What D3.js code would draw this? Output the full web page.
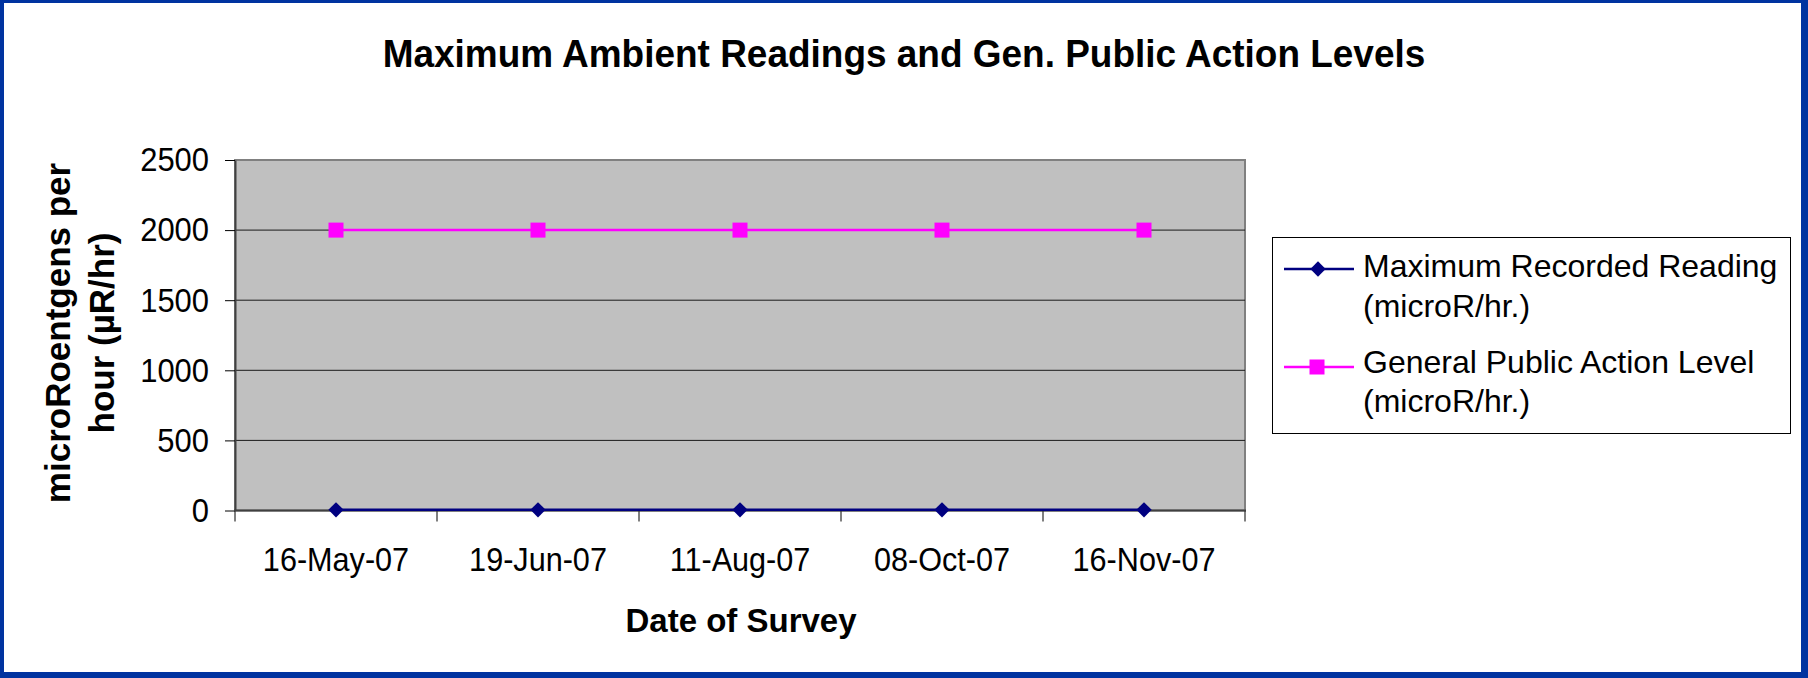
<!DOCTYPE html>
<html>
<head>
<meta charset="utf-8">
<script src="https://cdn.jsdelivr.net/npm/d3@7/dist/d3.min.js"></script>
<style>
  html, body { margin: 0; padding: 0; background: #0033a0; }
  svg { display: block; }
  text { font-family: "Liberation Sans", Arial, sans-serif; fill: #000; }
</style>
</head>
<body>
<svg id="chart" width="1808" height="678"></svg>
<script>
  const dates = ["16-May-07", "19-Jun-07", "11-Aug-07", "08-Oct-07", "16-Nov-07"];
  const maxReading = [5, 5, 5, 5, 5];
  const actionLevel = [2000, 2000, 2000, 2000, 2000];
  const yTicks = [0, 500, 1000, 1500, 2000, 2500];
  const seriesNames = [
    ["Maximum Recorded Reading", "(microR/hr.)"],
    ["General Public Action Level", "(microR/hr.)"],
  ];

  const plot = { left: 235, top: 160, right: 1245, bottom: 510.5 };

  const svg = d3.select("#chart");

  // the source chart's text is a bit narrower than Arial: squeeze glyphs
  function condense(sel, k) {
    sel.each(function () {
      const w = this.getComputedTextLength();
      d3.select(this).attr("textLength", w * k).attr("lengthAdjust", "spacingAndGlyphs");
    });
  }

  // white slide panel inside the blue frame
  svg.append("rect")
    .attr("x", 4).attr("y", 3)
    .attr("width", 1797).attr("height", 669)
    .attr("fill", "#fff");

  /* ── title ── */
  svg.append("text")
    .attr("x", 904).attr("y", 67)
    .attr("text-anchor", "middle")
    .attr("font-size", 38.5).attr("font-weight", "bold")
    .text("Maximum Ambient Readings and Gen. Public Action Levels")
    .call(condense, 0.96);

  /* ── scales ── */
  const x = d3.scaleBand().domain(dates).range([plot.left, plot.right]);
  const xc = (d) => x(d) + x.bandwidth() / 2;
  const y = d3.scaleLinear().domain([0, 2500]).range([plot.bottom, plot.top]);

  /* ── plot area ── */
  svg.append("rect")
    .attr("x", plot.left).attr("y", plot.top)
    .attr("width", plot.right - plot.left)
    .attr("height", plot.bottom - plot.top)
    .attr("fill", "#c0c0c0")
    .attr("stroke", "#808080").attr("stroke-width", 2);

  // gridlines
  svg.append("g")
    .selectAll("line")
    .data(yTicks.filter((t) => t > 0 && t < 2500))
    .join("line")
    .attr("x1", plot.left).attr("x2", plot.right)
    .attr("y1", (d) => y(d)).attr("y2", (d) => y(d))
    .attr("stroke", "#1a1a1a").attr("stroke-width", 1);

  // y axis
  const yAxis = svg.append("g")
    .attr("transform", `translate(${plot.left},0)`)
    .call(d3.axisLeft(y).tickValues(yTicks).tickFormat(d3.format("d"))
      .tickSize(10).tickSizeOuter(0).tickPadding(16));
  yAxis.select(".domain").attr("stroke", "#404040").attr("stroke-width", 2);
  yAxis.selectAll(".tick line").attr("stroke", "#000");
  yAxis.selectAll(".tick text")
    .attr("font-size", 34)
    .attr("font-family", "Liberation Sans, Arial, sans-serif")
    .attr("fill", "#000")
    .call(condense, 0.91);

  // x axis: labels at band centres, ticks at band edges
  const xAxis = svg.append("g")
    .attr("transform", `translate(0,${plot.bottom})`)
    .call(d3.axisBottom(x).tickSize(0).tickPadding(36));
  xAxis.select(".domain").remove();
  xAxis.selectAll(".tick text")
    .attr("font-size", 34)
    .attr("font-family", "Liberation Sans, Arial, sans-serif")
    .attr("fill", "#000")
    .call(condense, 0.9);

  const edges = dates.map((d) => x(d)).concat([plot.right]);
  svg.append("g")
    .selectAll("line")
    .data(edges)
    .join("line")
    .attr("x1", (d) => d).attr("x2", (d) => d)
    .attr("y1", plot.bottom).attr("y2", plot.bottom + 11)
    .attr("stroke", "#000").attr("stroke-width", 1);

  svg.append("line")
    .attr("x1", plot.left - 1).attr("x2", plot.right + 1)
    .attr("y1", plot.bottom).attr("y2", plot.bottom)
    .attr("stroke", "#404040").attr("stroke-width", 2);

  /* ── series ── */
  const line = d3.line().x((d, i) => xc(dates[i])).y((d) => y(d));

  svg.append("path")
    .datum(actionLevel)
    .attr("d", line)
    .attr("fill", "none")
    .attr("stroke", "#ff00ff").attr("stroke-width", 2.5);

  svg.append("g")
    .selectAll("rect")
    .data(actionLevel)
    .join("rect")
    .attr("x", (d, i) => xc(dates[i]) - 7.5)
    .attr("y", (d) => y(d) - 7.5)
    .attr("width", 15).attr("height", 15)
    .attr("fill", "#ff00ff");

  svg.append("path")
    .datum(maxReading)
    .attr("d", line)
    .attr("fill", "none")
    .attr("stroke", "#000080").attr("stroke-width", 2.5);

  const diamond = d3.symbol().type(d3.symbolDiamond2).size(150);
  svg.append("g")
    .selectAll("path")
    .data(maxReading)
    .join("path")
    .attr("d", diamond)
    .attr("transform", (d, i) => `translate(${xc(dates[i])},${y(d)})`)
    .attr("fill", "#000080");

  /* ── axis titles ── */
  svg.append("text")
    .attr("x", 741).attr("y", 632)
    .attr("text-anchor", "middle")
    .attr("font-size", 33).attr("font-weight", "bold")
    .text("Date of Survey");

  const yTitle = svg.append("text")
    .attr("transform", "translate(70,333) rotate(-90)")
    .attr("text-anchor", "middle")
    .attr("font-size", 35).attr("font-weight", "bold");
  yTitle.append("tspan").attr("x", 0).attr("y", 0).text("microRoentgens per");
  yTitle.append("tspan").attr("x", 0).attr("y", 44).text("hour (µR/hr)");

  /* ── legend ── */
  const lg = svg.append("g");
  lg.append("rect")
    .attr("x", 1272.5).attr("y", 237.5)
    .attr("width", 518).attr("height", 196)
    .attr("fill", "#fff")
    .attr("stroke", "#000").attr("stroke-width", 1);

  const items = [
    { color: "#000080", shape: "diamond", cy: 269, base: [277, 317] },
    { color: "#ff00ff", shape: "square", cy: 367, base: [373, 412] },
  ];
  items.forEach((it, k) => {
    lg.append("line")
      .attr("x1", 1284).attr("x2", 1354)
      .attr("y1", it.cy).attr("y2", it.cy)
      .attr("stroke", it.color).attr("stroke-width", 2.5);
    if (it.shape === "diamond") {
      lg.append("path")
        .attr("d", diamond)
        .attr("transform", `translate(1318,${it.cy})`)
        .attr("fill", it.color);
    } else {
      lg.append("rect")
        .attr("x", 1317 - 7.5).attr("y", it.cy - 7.5)
        .attr("width", 15).attr("height", 15)
        .attr("fill", it.color);
    }
    seriesNames[k].forEach((s, j) => {
      lg.append("text")
        .attr("x", 1363).attr("y", it.base[j])
        .attr("font-size", 32)
        .text(s);
    });
  });
</script>
</body>
</html>
